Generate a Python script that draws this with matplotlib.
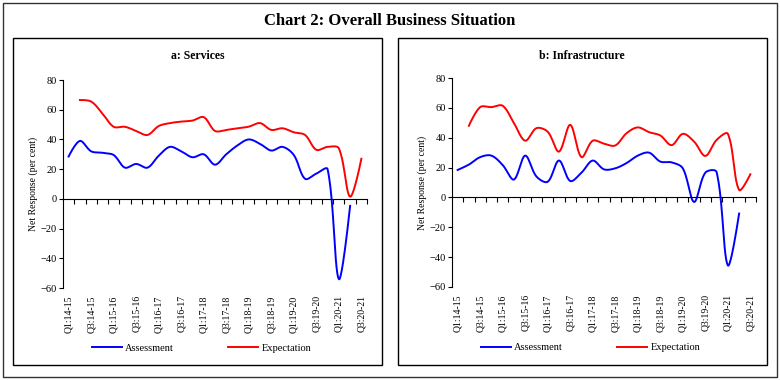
import numpy as np
import matplotlib.pyplot as plt
from matplotlib.patches import Rectangle

plt.rcParams['font.family'] = ['Liberation Serif', 'DejaVu Serif']

# quarters Q1:14-15 .. Q3:20-21 (27 quarters), labels on every other one
tick_labels = ['Q1:14-15', 'Q3:14-15', 'Q1:15-16', 'Q3:15-16', 'Q1:16-17',
               'Q3:16-17', 'Q1:17-18', 'Q3:17-18', 'Q1:18-19', 'Q3:18-19',
               'Q1:19-20', 'Q3:19-20', 'Q1:20-21', 'Q3:20-21']
n_quarters = 27

# a: Services
svc_assess = [28.5, 39, 32, 31, 29.5, 21, 23.5, 21, 29, 35, 32, 28, 30, 23,
              30, 36, 40, 37, 32.5, 35, 29.5, 13.5, 17, 20, -54, -4.7, None]
svc_expect = [None, 66.5, 65.5, 57.5, 48.5, 48.5, 45.7, 43, 49, 51, 52, 52.7,
              55, 45.7, 46.4, 47.5, 48.6, 51, 46.4, 47.5, 44.8, 43, 33, 35, 34,
              1.5, 27]

# b: Infrastructure
inf_assess = [18.4, 22, 27, 28, 21.7, 12, 28, 14, 10.5, 24.7, 11, 16.6, 24.7,
              18.8, 19.5, 23, 28, 30, 24, 23.5, 19.5, -3, 16.6, 17, -45.5,
              -10.8, None]
inf_expect = [None, 48, 60.5, 60.5, 61.4, 49.8, 38, 46.4, 44, 30.7, 48.6, 27,
              38, 36, 34.8, 43, 46.9, 43.7, 41.5, 35, 42.6, 37.4, 27.8, 38.5,
              42.6, 5, 15.5]

# pixel size of one quarter / one unit, used to shape the smoothing
SX, SY = 11.26, 1.49


def smooth(vals, steps=24):
    # Bezier smoothing with control points scaled by the neighbouring
    # segment lengths on screen (close to Excel's smoothed line)
    y = np.array([np.nan if v is None else v for v in vals], dtype=float)
    x = np.arange(len(y), dtype=float)
    ok = ~np.isnan(y)
    P = np.column_stack([x[ok] * SX, y[ok] * SY])
    n = len(P)
    seg = np.hypot(*np.diff(P, axis=0).T)
    cin, cout = [], []
    for i in range(n):
        if i == 0 or i == n - 1:
            cin.append(P[i]); cout.append(P[i])
            continue
        d = P[i + 1] - P[i - 1]
        l0, l1 = seg[i - 1], seg[i]
        cin.append(P[i] - d * l0 / (l0 + l1) / 3)
        cout.append(P[i] + d * l1 / (l0 + l1) / 3)
    t = np.linspace(0, 1, steps, endpoint=False)[:, None]
    pts = []
    for i in range(n - 1):
        a, b, c, e = P[i], cout[i], cin[i + 1], P[i + 1]
        pts.append((1 - t) ** 3 * a + 3 * (1 - t) ** 2 * t * b
                   + 3 * (1 - t) * t ** 2 * c + t ** 3 * e)
    pts.append(P[-1][None, :])
    pts = np.vstack(pts)
    return pts[:, 0] / SX, pts[:, 1] / SY


fig = plt.figure(figsize=(7.8, 3.8), dpi=100)
W, H = 780.0, 380.0

# outer frame and panel frames
fig.patches.append(Rectangle((3 / W, 3 / H), 774 / W, 374 / H, transform=fig.transFigure,
                             fill=False, lw=1.0, ec='#333333'))
fig.patches.append(Rectangle((13 / W, 15 / H), 369 / W, 327 / H, transform=fig.transFigure,
                             fill=False, lw=1.0, ec='black'))
fig.patches.append(Rectangle((398 / W, 15 / H), 369 / W, 327 / H, transform=fig.transFigure,
                             fill=False, lw=1.0, ec='black'))

fig.text(390 / W, 1 - 21 / H, 'Chart 2: Overall Business Situation',
         ha='center', va='center', fontsize=12, fontweight='bold')

panels = [
    ('a: Services', svc_assess, svc_expect, 63, 80, 288, 198),
    ('b: Infrastructure', inf_assess, inf_expect, 452, 78, 287, 582),
]

for title, assess, expect, left, top, bottom, tx in panels:
    ax = fig.add_axes([left / W, 1 - bottom / H, 304 / W, (bottom - top) / H])
    fig.text(tx / W, 1 - 56 / H, title, ha='center', va='center',
             fontsize=8.5, fontweight='bold')

    xa, ya = smooth(assess)
    xe, ye = smooth(expect)
    ax.plot(xa, ya, color='#0000ff', lw=1.4, label='Assessment')
    ax.plot(xe, ye, color='#ff0000', lw=1.4, label='Expectation')

    ax.set_xlim(-0.5, n_quarters - 0.5)
    ax.set_ylim(-60, 80)
    ax.set_yticks(np.arange(-60, 81, 20))
    ax.tick_params(axis='y', labelsize=7.5, length=3, width=0.8, pad=1.5)

    ax.spines['top'].set_visible(False)
    ax.spines['right'].set_visible(False)
    ax.spines['bottom'].set_position(('data', 0))
    ax.spines['left'].set_linewidth(0.8)
    ax.spines['bottom'].set_linewidth(0.8)
    ax.set_xticks(np.arange(0.5, n_quarters, 1))
    ax.set_xticklabels([])
    ax.tick_params(axis='x', length=3.5, width=0.8, direction='out')

    for k, lab in enumerate(tick_labels):
        ax.text(2 * k, -0.035, lab, transform=ax.get_xaxis_transform(),
                rotation=90, ha='center', va='top', fontsize=7)

    ax.set_ylabel('Net Response (per cent)', fontsize=7, labelpad=2)

    ax.legend(loc='center', bbox_to_anchor=(0.455, -0.29), ncol=2, frameon=False,
              fontsize=7.5, handlelength=2.9, handletextpad=0.3,
              columnspacing=5.2, borderaxespad=0)

fig.savefig('out.png', dpi=100)
